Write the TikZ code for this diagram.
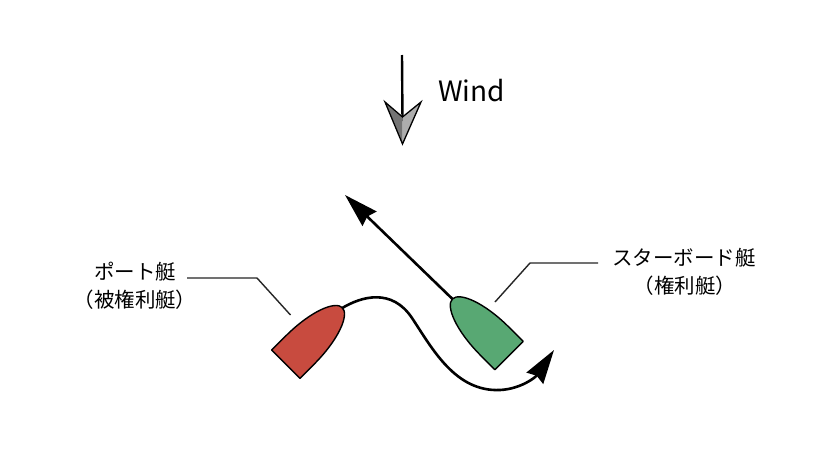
\documentclass[tikz,border=0pt]{standalone}
\usepackage{fontspec}
\setmainfont{Noto Sans CJK JP}
\usetikzlibrary{arrows.meta}
\definecolor{portred}{HTML}{C84B3F}
\definecolor{stbdgreen}{HTML}{58A873}
\definecolor{darkwing}{HTML}{747474}
\definecolor{lightwing}{HTML}{ADADAD}
\begin{document}
\begin{tikzpicture}[x=1pt,y=-1pt,
  boat/.style={draw=black,line width=1.4pt,line join=round},
  leader/.style={draw=black!85,line width=1.4pt},
  course/.style={line width=2.6pt,-{Stealth[length=34pt,width=20pt,inset=3pt]}},
  lbl/.style={font=\fontsize{20.5}{24}\selectfont,inner sep=0pt,text=black},
  windlbl/.style={font=\fontsize{28}{34}\selectfont,inner sep=0pt,text=black,anchor=base west}]
\useasboundingbox (0,0) rectangle (828,472);
\fill[white] (0,0) rectangle (828,472);
% wind
\node[windlbl] (wind) at (438,101) {Wind};
\coordinate (windtop) at (402,55);
\coordinate (windnotch) at (402.5,117);
\coordinate (windtip) at (402.5,144);
\coordinate (windl) at (385,102);
\coordinate (windr) at (421,102);
\draw[line width=2.4pt] (windtop) -- ([yshift=-4pt]windnotch);
\fill[darkwing] (windl) -- (windtip) -- (windnotch) -- cycle;
\fill[lightwing] (windr) -- (windtip) -- (windnotch) -- cycle;
\draw[line width=1.3pt,line join=miter] (windl) -- (windtip) -- (windr) -- (windnotch) -- cycle;
% green boat course (behind boat)
\begin{scope}[shift={(509,355.5)},rotate=135]
  \coordinate (greenbow) at (79,0);
\end{scope}
\coordinate (greenend) at (345,195);
\draw[course] (greenbow) -- (greenend);
% red boat
\begin{scope}[shift={(285.8,364.2)},rotate=45]
  \path[boat,fill=portred] (0,20) -- (20,20) .. controls (55,20) and (80,10) .. (80,0)
     .. controls (80,-10) and (55,-20) .. (20,-20) -- (0,-20) -- cycle;
  \coordinate (redbow) at (79,0);
\end{scope}
% green boat
\begin{scope}[shift={(509,355.5)},rotate=135]
  \path[boat,fill=stbdgreen] (0,20) -- (20,20) .. controls (55,20) and (80,10) .. (80,0)
     .. controls (80,-10) and (55,-20) .. (20,-20) -- (0,-20) -- cycle;
\end{scope}
% red course
\coordinate (redmid1) at (412,318);
\coordinate (redlow) at (500,390);
\coordinate (redend) at (554,350);
\draw[course] (redbow) .. controls (362,296) and (392,288) .. (redmid1)
   .. controls (432,348) and (455,392) .. (redlow)
   .. controls (520,389) and (535,378) .. (redend);
% labels
\node[lbl] (port1) at (135,272) {ポート艇};
\node[lbl] (port2) at (135,299.5) {（被権利艇）};
\node[lbl] (stbd1) at (684,258) {スターボード艇};
\node[lbl] (stbd2) at (685,285.5) {（権利艇）};
% leaders
\coordinate (pa) at (187,278);
\coordinate (pb) at (257,278);
\coordinate (pc) at (290.5,315);
\draw[leader] (pa) -- (pb) -- (pc);
\coordinate (sa) at (598,263);
\coordinate (sb) at (530,263);
\coordinate (sc) at (495,302);
\draw[leader] (sa) -- (sb) -- (sc);
\end{tikzpicture}
\end{document}
